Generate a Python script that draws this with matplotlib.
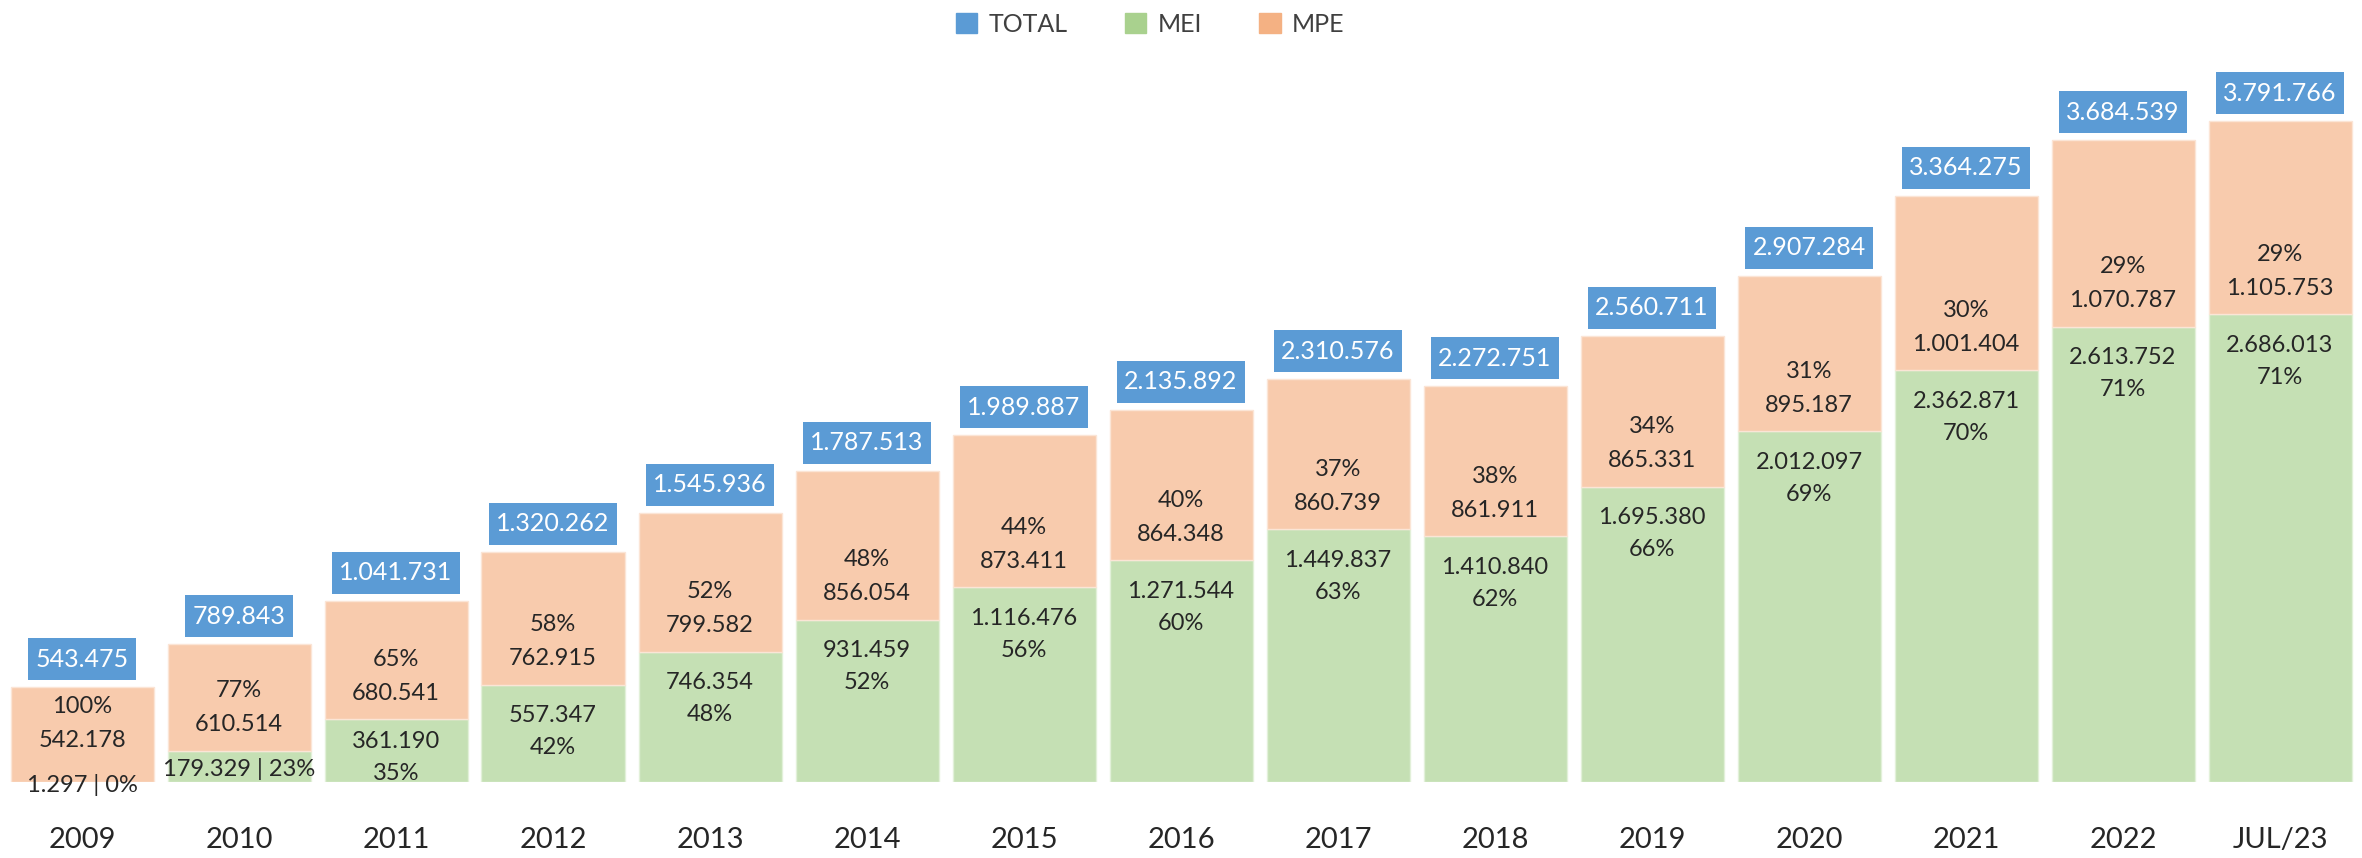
import matplotlib.pyplot as plt
from matplotlib.patches import Patch
from matplotlib.path import Path

plt.rcParams['font.family'] = ['Lato', 'DejaVu Sans']

years = ['2009', '2010', '2011', '2012', '2013', '2014', '2015', '2016',
         '2017', '2018', '2019', '2020', '2021', '2022', 'JUL/23']
mei = [1297, 179329, 361190, 557347, 746354, 931459, 1116476, 1271544,
       1449837, 1410840, 1695380, 2012097, 2362871, 2613752, 2686013]
mpe = [542178, 610514, 680541, 762915, 799582, 856054, 873411, 864348,
       860739, 861911, 865331, 895187, 1001404, 1070787, 1105753]
total = [543475, 789843, 1041731, 1320262, 1545936, 1787513, 1989887, 2135892,
         2310576, 2272751, 2560711, 2907284, 3364275, 3684539, 3791766]
mei_pct = [0, 23, 35, 42, 48, 52, 56, 60, 63, 62, 66, 69, 70, 71, 71]
mpe_pct = [100, 77, 65, 58, 52, 48, 44, 40, 37, 38, 34, 31, 30, 29, 29]

BLUE = '#5B9BD5'
GREEN = '#C5E0B4'
ORANGE = '#F8CBAD'
GREEN_LEG = '#A9D18E'
ORANGE_LEG = '#F4B183'
TXT = '#262626'

W, H, DPI = 2362, 858, 100
UNITS_PER_PX = 5740
BASE_PX = 76
PT = 72 / DPI  # points per pixel
LBL = 17


def fmt(v):
    return f'{v:,}'.replace(',', '.')


def tag_box(x0, y0, width, height, mutation_size):
    # rectangle with more padding top/bottom than left/right
    px, py = 0.3 * mutation_size, 0.38 * mutation_size
    x0, y0 = x0 - px, y0 - py
    x1, y1 = x0 + width + 2 * px, y0 + height + 2 * py
    return Path([(x0, y0), (x1, y0), (x1, y1), (x0, y1), (x0, y0)], closed=True)


fig = plt.figure(figsize=(W / DPI, H / DPI), dpi=DPI)
ax = fig.add_axes([0, BASE_PX / H, 1, 1 - BASE_PX / H])
pitch = 157
ax.set_xlim(-82 / pitch, (W - 82) / pitch)
ax.set_ylim(0, (H - BASE_PX) * UNITS_PER_PX)

x = list(range(len(years)))
bw = 143 / pitch
ax.bar(x, mei, bw, color=GREEN, edgecolor='#E2F0D9', linewidth=1)
ax.bar(x, mpe, bw, bottom=mei, color=ORANGE, edgecolor='#FBE5D6', linewidth=1)

for i in x:
    green_px = mei[i] / UNITS_PER_PX
    # MPE labels, just above the boundary
    up = 15 if green_px < 5 else 0
    ax.annotate(f'{mpe_pct[i]}%', (i, mei[i]), xytext=(0, (60 + up) * PT),
                textcoords='offset points', ha='center', va='center',
                fontsize=LBL, color=TXT)
    ax.annotate(fmt(mpe[i]), (i, mei[i]), xytext=(0, (26 + up) * PT),
                textcoords='offset points', ha='center', va='center',
                fontsize=LBL, color=TXT)
    # MEI labels
    if green_px < 45:
        ax.annotate(f'{fmt(mei[i])} | {mei_pct[i]}%', (i, mei[i] / 2),
                    xytext=(0, -3 * PT), textcoords='offset points',
                    ha='center', va='center', fontsize=LBL, color=TXT)
    else:
        shift = max(0, 63 - (green_px - 9))
        ax.annotate(fmt(mei[i]), (i, mei[i]), xytext=(0, (-31 + shift) * PT),
                    textcoords='offset points', ha='center', va='center',
                    fontsize=LBL, color=TXT)
        ax.annotate(f'{mei_pct[i]}%', (i, mei[i]), xytext=(0, (-63 + shift) * PT),
                    textcoords='offset points', ha='center', va='center',
                    fontsize=LBL, color=TXT)
    # total box
    ax.annotate(fmt(total[i]), (i, total[i]), xytext=(0, 16.5 * PT),
                textcoords='offset points', ha='center', va='bottom',
                fontsize=18, color='white',
                bbox=dict(boxstyle=tag_box, fc=BLUE, ec='none'))

ax.set_xticks(x, years, fontsize=21, color=TXT)
ax.tick_params(axis='x', length=0, pad=58 * PT)
for lab in ax.get_xticklabels():
    lab.set_va('center')
ax.set_yticks([])
for s in ax.spines.values():
    s.set_visible(False)

handles = [Patch(color=BLUE, label='TOTAL'),
           Patch(color=GREEN_LEG, label='MEI'),
           Patch(color=ORANGE_LEG, label='MPE')]
fig.legend(handles=handles, loc='center', bbox_to_anchor=(1150 / W, 1 - 24 / H),
           ncol=3, frameon=False, fontsize=18, handlelength=0.85,
           handleheight=0.85, handletextpad=0.45, columnspacing=2.3,
           labelcolor='#404040')

fig.savefig('out.png', dpi=DPI)
